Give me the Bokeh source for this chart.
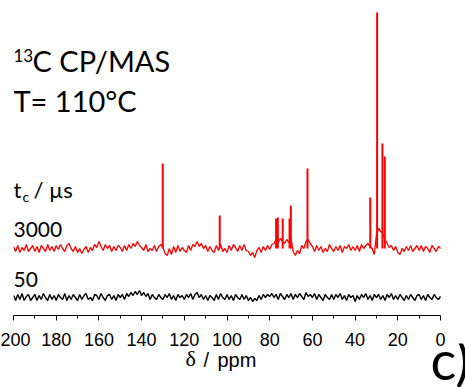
from bokeh.plotting import figure
from bokeh.models import Range1d, FixedTicker, Label
from bokeh.core.properties import value
from bokeh.layouts import column
from bokeh.embed import file_html
from bokeh.resources import INLINE

# ---- data ----
ppm_max, ppm_min = 200, 0
tick_values = [200, 180, 160, 140, 120, 100, 80, 60, 40, 20, 0]
tick_minor = [190, 170, 150, 130, 110, 90, 70, 50, 30, 10]

# baseline noise (sampled each 1 ppm, from 200 down to 0), arbitrary units
red_noise = [
    2, -3, 3, -4, 1, -2, 4, -3, 0, 3,
    -3, 2, -4, 3, 0, -3, 4, -2, 2, -3,
    3, -1, 4, 0, -3, 3, 5, 0, -3, 2,
    -4, 0, -5, -1, 2, -4, 1, -2, 4, 1,
    7, 2, -2, 4, 0, 3, -3, 2, -2, 3,
    1, -3, 3, -2, 4, 0, 5, 2, 7, 3,
    1, -2, 4, -3, 0, -2, 3, -3, 2, 4,
    1, -5, -7, 0, -6, 2, -4, 3, -3, 1,
    -2, -4, 3, -2, 4, 2, 7, 2, 5, 0,
    3, -3, 2, -2, -4, 3, -2, 4, -3, 0,
    -4, 3, -2, 4, 1, -3, 3, -2, 4, -2,
    -3, -7, -4, -9, -2, 1, -4, 2, -2, 3,
    -1, 4, 5, 9, 6, 10, 7, 5, 9, 6,
    10, -3, -7, -2, -5, 3, 0, 7, 9, 5,
    2, -3, 3, -2, 2, -4, 0, -3, 4, 0,
    -3, 2, -2, 3, -4, 2, 0, 4, -2, 2,
    -2, 3, -3, 4, 0, 3, 5, 2, 0, -6,
    14, 20, 17, 15, 9, 5, 1, 3, -2, 2,
    -4, -6, 0, -3, 2, -2, 3, -3, 0, 3,
    -2, 3, -3, 2, 0, -4, 3, 0, -3, 2,
    0,
]
black_noise = [
    2, -3, 3, -2, 4, -3, 1, 3, -3, 0,
    3, -3, 2, -2, 4, 0, -3, 3, -2, 2,
    -3, 3, 0, -2, 4, -3, 2, -2, 3, 0,
    -3, 3, -2, 2, 4, -2, 0, -3, 3, 2,
    -2, 4, 0, -3, 2, 3, -2, 2, -3, 3,
    0, 3, -2, 4, 1, 5, 2, 6, 3, 7,
    2, 5, 1, 4, -2, 3, 0, -2, 3, 0,
    -2, 3, 0, 4, -2, 2, -3, 3, 0, 2,
    -2, 3, 0, 4, -2, 3, 5, 0, 3, -2,
    2, -3, 2, 0, -3, 3, -2, 4, 0, -2,
    3, -2, 2, -3, 3, 0, -2, 3, -2, 2,
    -3, 0, -4, -1, -3, 2, -2, 3, 0, 3,
    1, 4, 0, 3, -2, 4, 1, -2, 3, 0,
    4, -2, 3, 0, 4, 1, -2, 5, 1, 3,
    0, 4, -2, 3, 0, -3, 3, 0, -2, 3,
    -2, 3, 0, 4, -2, 2, -3, 3, 0, 2,
    -4, 2, -2, 3, 0, 4, -2, 2, -3, 3,
    0, 3, -2, 2, -3, 3, 0, 4, -2, 2,
    -2, 3, 0, -3, 2, -2, 3, 0, -3, 2,
    3, -2, 2, -3, 3, 0, -2, 3, 0, -2,
    1,
]
ppm_axis = list(range(ppm_max, ppm_min - 1, -1))

# resolved peaks of the 3000 us spectrum: position (ppm), height above baseline
red_peak_ppm = [130.1, 103.4, 77.0, 76.2, 73.9, 70.7, 70.1, 62.3, 32.9, 29.7, 27.2, 26.1]
red_peak_height = [85, 33, 30, 31, 30, 30, 43, 80, 51, 236, 105, 92]

red_offset = 67
black_offset = 18

# ---- main figure ----
# frame spans page x 13..465; 200 ppm sits at x 13 and 0 ppm at x 440
right_pad_ppm = 200 * 25 / 427
p = figure(width=465, height=353, output_backend="svg", toolbar_location=None,
           x_range=Range1d(ppm_max, ppm_min - right_pad_ppm), y_range=Range1d(0, 315),
           min_border_left=13, min_border_right=0, min_border_top=0,
           min_border_bottom=38)
p.outline_line_color = None
p.grid.visible = False
p.yaxis.visible = False
p.background_fill_color = "white"
p.border_fill_color = "white"

red_y = [red_offset + v for v in red_noise]
black_y = [black_offset + v for v in black_noise]
p.line(ppm_axis, black_y, line_color="black", line_width=1.4)
p.line(ppm_axis, red_y, line_color="#ff0000", line_width=1.3)
p.segment(x0=red_peak_ppm, y0=[red_offset] * len(red_peak_ppm),
          x1=red_peak_ppm, y1=[red_offset + h for h in red_peak_height],
          line_color="#ff0000", line_width=2)

ax = p.xaxis[0]
ax.bounds = (ppm_min, ppm_max)
ax.ticker = FixedTicker(ticks=tick_values, minor_ticks=tick_minor)
ax.major_tick_in = 0
ax.major_tick_out = 5
ax.minor_tick_in = 0
ax.minor_tick_out = 3
ax.axis_line_color = "black"
ax.major_tick_line_color = "black"
ax.minor_tick_line_color = "black"
ax.major_label_text_font = "Liberation Sans"
ax.major_label_text_font_size = "18px"
ax.major_label_text_color = "black"
ax.major_label_standoff = 12


def lab(fig, text, x, base, size, bottom, left, font="Lato"):
    # x, base: wanted canvas position (left edge, text baseline) in page pixels
    px = int(size.replace("px", ""))
    y = bottom - base + round(0.4 * px)
    fig.add_layout(Label(x=x - left, y=y, x_units="screen", y_units="screen", text=text,
                         text_font=font, text_font_size=size, text_color="black",
                         text_baseline="alphabetic", text_align="left"))


lab(p, "13", 13, 62, "17px", 315, 13)
lab(p, "C CP/MAS", 32, 72, "29px", 315, 13)
lab(p, "T= 110°C", 13, 112, "29px", 315, 13)
lab(p, "t", 13, 198, "22px", 315, 13)
lab(p, "c", 22, 202, "14px", 315, 13)
lab(p, "/ µs", 33, 198, "22px", 315, 13)
lab(p, "3000", 13, 237, "21px", 315, 13)
lab(p, "50", 13, 287, "21px", 315, 13)

# ---- strip below: axis title and panel letter ----
q = figure(width=465, height=44, output_backend="svg", toolbar_location=None,
           x_range=Range1d(13, 465), y_range=Range1d(0, 44),
           min_border=0, min_border_left=13, min_border_right=0,
           min_border_top=0, min_border_bottom=0)
q.margin = (-10, 0, 0, 0)
q.outline_line_color = None
q.grid.visible = False
q.axis.visible = False
q.background_fill_color = None
q.border_fill_color = None

lab(q, "δ", 185, 367, "22px", 387, 13, font="Liberation Serif")
lab(q, "/", 203, 367, "20px", 387, 13, font="Liberation Sans")
lab(q, "ppm", 217, 367, "20px", 387, 13, font="Liberation Sans")

panel_letter = ["c)"]
q.text(x=[430], y=[387 - 380 + 21], text=panel_letter, text_font=value("Lato"),
       text_font_size="54px", text_color="black", text_baseline="alphabetic",
       text_align="left")

layout = column(p, q, spacing=0)
open("out.html", "w").write(file_html(layout, INLINE))
